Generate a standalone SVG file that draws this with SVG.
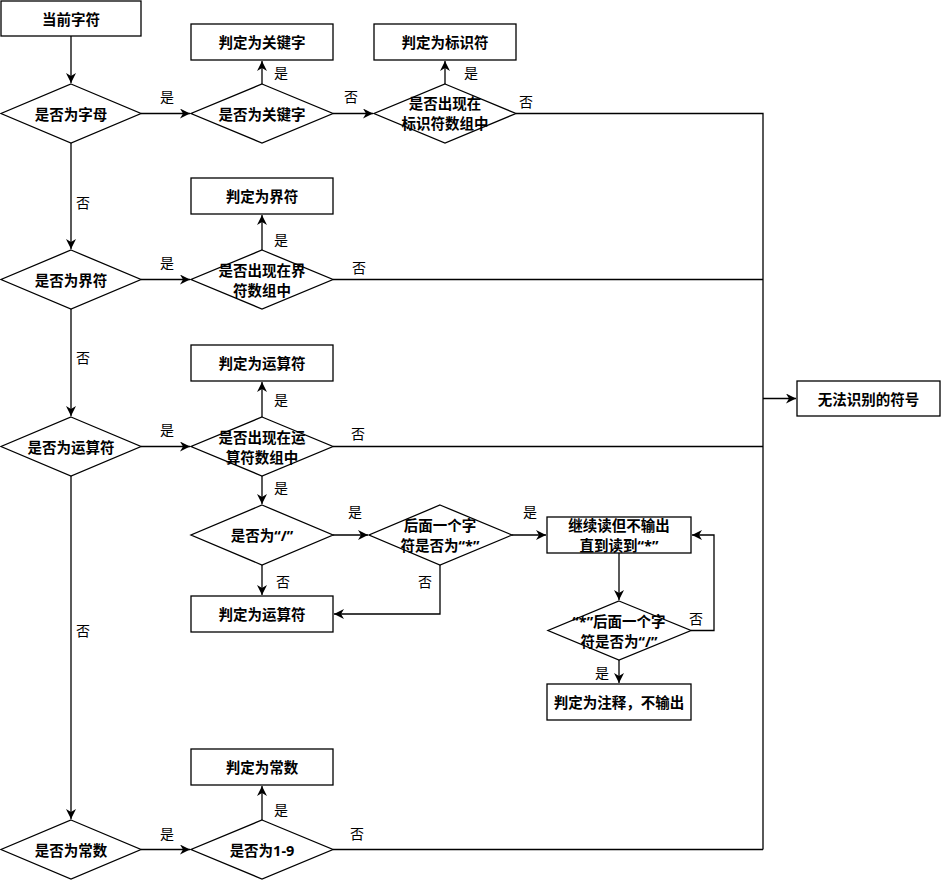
<svg xmlns="http://www.w3.org/2000/svg" width="941" height="882" viewBox="0 0 941 882">
<style>
.s{fill:#fff;stroke:#000;stroke-width:1.3}
.t{font-family:"Noto Sans","Noto Sans CJK SC",sans-serif;font-size:14.5px;font-weight:bold;fill:#000;text-anchor:middle;dominant-baseline:central}
.l{font-family:"Noto Sans CJK SC","Noto Sans",sans-serif;font-size:14px;fill:#000;text-anchor:middle;dominant-baseline:central}
.c{fill:none;stroke:#000;stroke-width:1.3}
</style>
<defs>
<marker id="a" markerUnits="userSpaceOnUse" markerWidth="11" markerHeight="10" refX="10" refY="5" orient="auto">
<path d="M0,0 L10,5 L0,10 L3,5 z" fill="#000"/>
</marker>
</defs>
<rect width="941" height="882" fill="#fff"/>
<g id="connectors">
<path class="c" d="M71,36 V83" marker-end="url(#a)"/>
<path class="c" d="M141,113.5 H190" marker-end="url(#a)"/>
<path class="c" d="M333,113.5 H373" marker-end="url(#a)"/>
<path class="c" d="M262,84 V61" marker-end="url(#a)"/>
<path class="c" d="M445,84 V61" marker-end="url(#a)"/>
<path class="c" d="M516,113.5 H763 V849.5"/>
<path class="c" d="M71,143 V249" marker-end="url(#a)"/>
<path class="c" d="M71,309 V416" marker-end="url(#a)"/>
<path class="c" d="M71,476 V819" marker-end="url(#a)"/>
<path class="c" d="M141,279.5 H190" marker-end="url(#a)"/>
<path class="c" d="M262,250 V215" marker-end="url(#a)"/>
<path class="c" d="M333,279.5 H763"/>
<path class="c" d="M141,446.5 H190" marker-end="url(#a)"/>
<path class="c" d="M262,417 V382" marker-end="url(#a)"/>
<path class="c" d="M333,446.5 H763"/>
<path class="c" d="M262,476 V504" marker-end="url(#a)"/>
<path class="c" d="M333,535 H368" marker-end="url(#a)"/>
<path class="c" d="M512,535 H546" marker-end="url(#a)"/>
<path class="c" d="M262,565 V595" marker-end="url(#a)"/>
<path class="c" d="M440,565 V614 H334" marker-end="url(#a)"/>
<path class="c" d="M619,553 V600" marker-end="url(#a)"/>
<path class="c" d="M691,630.5 H714 V535 H692" marker-end="url(#a)"/>
<path class="c" d="M619,660 V683" marker-end="url(#a)"/>
<path class="c" d="M141,849.5 H190" marker-end="url(#a)"/>
<path class="c" d="M262,820 V786" marker-end="url(#a)"/>
<path class="c" d="M333,849.5 H763"/>
<path class="c" d="M763,398.5 H796" marker-end="url(#a)"/>
</g>
<g id="labels">
<text class="l" x="167" y="96">是</text>
<text class="l" x="281" y="72">是</text>
<text class="l" x="351" y="96">否</text>
<text class="l" x="471" y="72">是</text>
<text class="l" x="526" y="101">否</text>
<text class="l" x="83" y="202">否</text>
<text class="l" x="167" y="262">是</text>
<text class="l" x="281" y="239">是</text>
<text class="l" x="359" y="267">否</text>
<text class="l" x="83" y="357">否</text>
<text class="l" x="167" y="429">是</text>
<text class="l" x="281" y="399">是</text>
<text class="l" x="358" y="433">否</text>
<text class="l" x="281" y="487">是</text>
<text class="l" x="355" y="511">是</text>
<text class="l" x="530" y="511">是</text>
<text class="l" x="283" y="581">否</text>
<text class="l" x="425" y="581">否</text>
<text class="l" x="696" y="618">否</text>
<text class="l" x="602" y="672">是</text>
<text class="l" x="83" y="630">否</text>
<text class="l" x="167" y="833">是</text>
<text class="l" x="281" y="809">是</text>
<text class="l" x="357" y="833">否</text>
</g>
<g id="start"><rect class="s" x="1" y="1" width="140" height="35"/><text class="t" x="71" y="18.5">当前字符</text></g>
<g id="isLetter"><polygon class="s" points="71,84 141,113.5 71,143 1,113.5"/><text class="t" x="71" y="113.5">是否为字母</text></g>
<g id="isKeyword"><polygon class="s" points="262,84 333,113.5 262,143 191,113.5"/><text class="t" x="262" y="113.5">是否为关键字</text></g>
<g id="keyword"><rect class="s" x="191" y="24" width="142" height="36"/><text class="t" x="262" y="42">判定为关键字</text></g>
<g id="inIdArray"><polygon class="s" points="445,84 516,113.5 445,143 374,113.5"/><text class="t" x="445" y="102.5">是否出现在</text><text class="t" x="445" y="122.5">标识符数组中</text></g>
<g id="identifier"><rect class="s" x="374" y="24" width="142" height="36"/><text class="t" x="445" y="42">判定为标识符</text></g>
<g id="isDelim"><polygon class="s" points="71,250 141,279.5 71,309 1,279.5"/><text class="t" x="71" y="279.5">是否为界符</text></g>
<g id="inDelimArray"><polygon class="s" points="262,250 333,279.5 262,309 191,279.5"/><text class="t" x="262" y="269.5">是否出现在界</text><text class="t" x="262" y="289.5">符数组中</text></g>
<g id="delim"><rect class="s" x="191" y="178" width="142" height="36"/><text class="t" x="262" y="196">判定为界符</text></g>
<g id="isOp"><polygon class="s" points="71,417 141,446.5 71,476 1,446.5"/><text class="t" x="71" y="446.5">是否为运算符</text></g>
<g id="inOpArray"><polygon class="s" points="262,417 333,446.5 262,476 191,446.5"/><text class="t" x="262" y="436.5">是否出现在运</text><text class="t" x="262" y="456.5">算符数组中</text></g>
<g id="op"><rect class="s" x="191" y="345" width="142" height="36"/><text class="t" x="262" y="363">判定为运算符</text></g>
<g id="isSlash"><polygon class="s" points="262,505 333,535 262,565 191,535"/><text class="t" x="262" y="535">是否为“/”</text></g>
<g id="nextStar"><polygon class="s" points="440,505 512,535 440,565 369,535"/><text class="t" x="440" y="525">后面一个字</text><text class="t" x="440" y="545">符是否为“*”</text></g>
<g id="op2"><rect class="s" x="191" y="596" width="142" height="36"/><text class="t" x="262" y="614">判定为运算符</text></g>
<g id="readUntil"><rect class="s" x="547" y="517" width="144" height="36"/><text class="t" x="619" y="525">继续读但不输出</text><text class="t" x="619" y="545">直到读到“*”</text></g>
<g id="starSlash"><polygon class="s" points="619,601 691,630.5 619,660 548,630.5"/><text class="t" x="619" y="620.5">“*”后面一个字</text><text class="t" x="619" y="640.5">符是否为“/”</text></g>
<g id="comment"><rect class="s" x="547" y="684" width="144" height="36"/><text class="t" x="619" y="702">判定为注释，不输出</text></g>
<g id="isConst"><polygon class="s" points="71,820 141,849.5 71,879 1,849.5"/><text class="t" x="71" y="849.5">是否为常数</text></g>
<g id="is19"><polygon class="s" points="262,820 333,849.5 262,879 191,849.5"/><text class="t" x="262" y="849.5">是否为1-9</text></g>
<g id="const"><rect class="s" x="191" y="749" width="142" height="36"/><text class="t" x="262" y="767">判定为常数</text></g>
<g id="unknown"><rect class="s" x="797" y="381" width="143" height="35"/><text class="t" x="868.5" y="398.5">无法识别的符号</text></g>
</svg>
